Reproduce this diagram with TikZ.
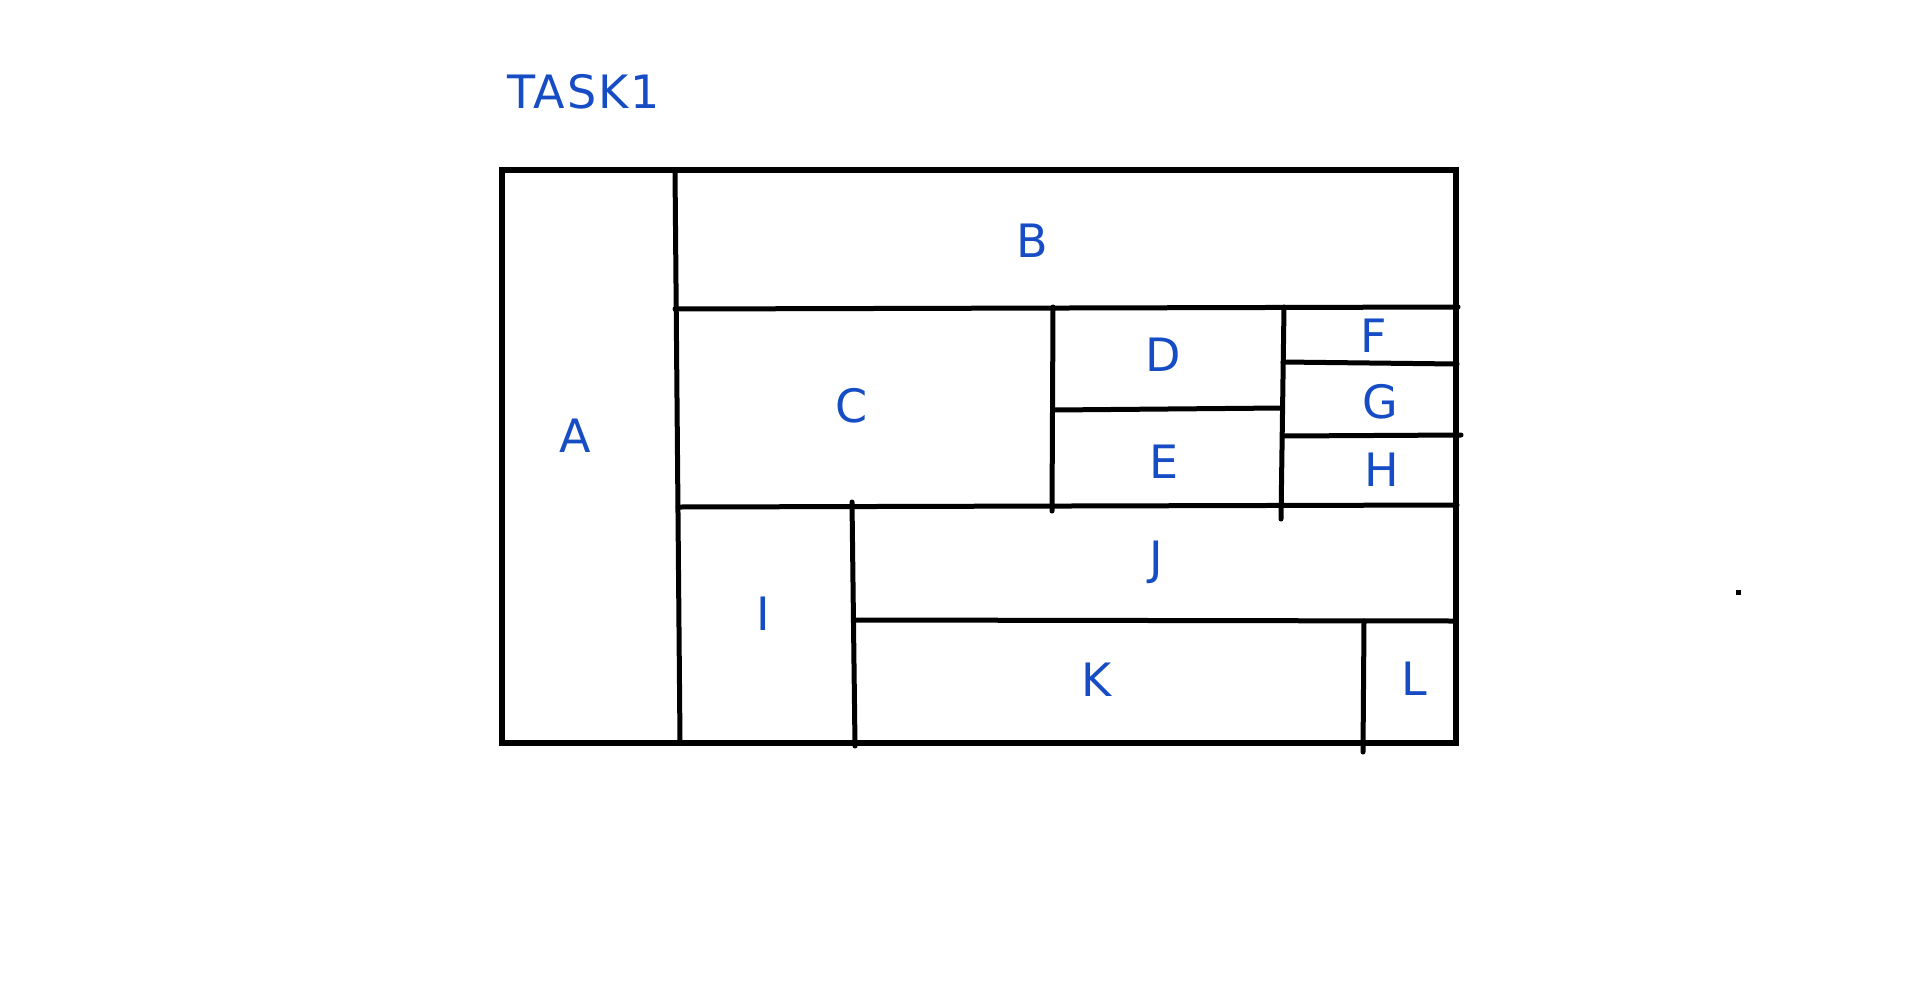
\documentclass[tikz,border=0pt]{standalone}
\usepackage{fontspec}
\setmainfont{DejaVu Sans}
\newfontfamily\titlefont[LetterSpace=4]{DejaVu Sans}
\definecolor{lblue}{RGB}{22,76,196}
\begin{document}
\begin{tikzpicture}[x=0.5pt,y=-0.5pt,
  wall/.style={line width=2.5pt,line cap=round,black},
  lbl/.style={anchor=base,inner sep=0pt,text=lblue,font=\fontsize{23}{27}\selectfont}]
\path[use as bounding box] (0,0) rectangle (1920,991);
% title
\node[lbl,anchor=base west,font=\titlefont\fontsize{23}{27}\selectfont] (task) at (507,108) {TASK1};
% outer frame
\draw[wall,line width=2.7pt,line cap=butt,line join=miter] (502,170) rectangle (1456,743);
% inner walls
\draw[wall] (675,170) -- (680,743);
\draw[wall] (675,309) -- (1458,307);
\draw[wall] (1053,307) -- (1052,511);
\draw[wall] (1053,410) -- (1281,408);
\draw[wall] (1284,307) -- (1281,519);
\draw[wall] (1283,362) -- (1457,364);
\draw[wall] (1283,436) -- (1461,435);
\draw[wall] (678,507) -- (1457,505);
\draw[wall] (852,502) -- (855,746);
\draw[wall] (855,620) -- (1456,621);
\draw[wall] (1364,621) -- (1363,752);
% dot
\fill (1736,590) rectangle (1741,595);
% labels
\node[lbl] (A) at (575,452) {A};
\node[lbl] (B) at (1032,257) {B};
\node[lbl] (C) at (852,422) {C};
\node[lbl] (D) at (1163,371) {D};
\node[lbl] (E) at (1164,478) {E};
\node[lbl] (F) at (1374,352) {F};
\node[lbl] (G) at (1380,418) {G};
\node[lbl] (H) at (1382,486) {H};
\node[lbl] (I) at (763,630) {I};
\node[lbl] (J) at (1156,574) {J};
\node[lbl] (K) at (1097,696) {K};
\node[lbl] (L) at (1414,695) {L};
\end{tikzpicture}
\end{document}
